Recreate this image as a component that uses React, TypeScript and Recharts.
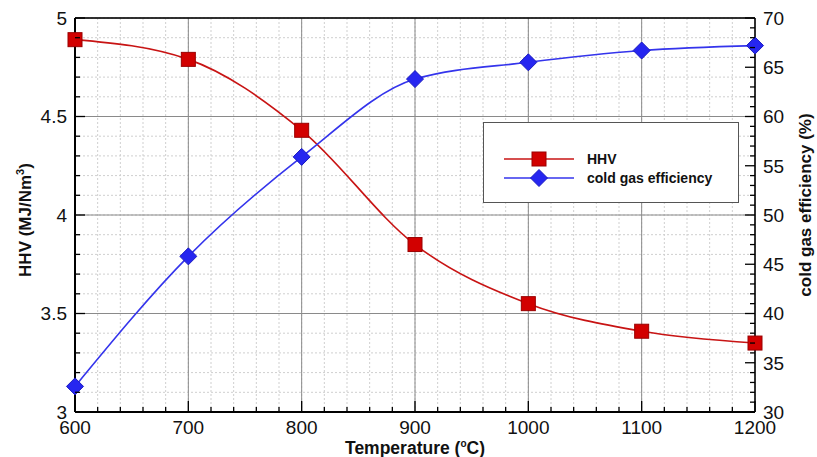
import * as React from 'react';
import {
  LineChart, Line, XAxis, YAxis, CartesianGrid, ReferenceLine, Legend, Label,
} from 'recharts';

// gasification temperature sweep
const TEMPERATURES = [600, 700, 800, 900, 1000, 1100, 1200];
const HHV_VALUES = [4.89, 4.79, 4.43, 3.85, 3.55, 3.41, 3.35];
const CGE_VALUES = [32.6, 45.8, 55.9, 63.8, 65.5, 66.7, 67.2];

const X_MAJOR = [600, 700, 800, 900, 1000, 1100, 1200];
const LEFT_MAJOR = [3, 3.5, 4, 4.5, 5];
const RIGHT_MAJOR = [30, 35, 40, 45, 50, 55, 60, 65, 70];

const HHV_COLOR = '#c81414';
const CGE_COLOR = '#3434ec';
const FONT = '"Liberation Sans", Arial, sans-serif';

const steps = (from: number, to: number, step: number) => {
  const out: number[] = [];
  for (let v = from; v <= to + step / 2; v += step) out.push(Math.round(v * 1000) / 1000);
  return out;
};

const X_MINOR = steps(600, 1200, 20);
const LEFT_MINOR = steps(3, 5, 0.1);
const RIGHT_MINOR = steps(30, 70, 1);

const data = TEMPERATURES.map((t, i) => ({ t, hhv: HHV_VALUES[i], cge: CGE_VALUES[i] }));

const isMajor = (v: number, majors: number[]) => majors.some((m) => Math.abs(m - v) < 1e-6);

const TICK_GAP = 8;

const BottomTick = (props: any) => {
  const { x, y, payload } = props;
  const major = isMajor(payload.value, X_MAJOR);
  const base = y - TICK_GAP;
  return (
    <g>
      <line x1={x} x2={x} y1={base} y2={base - (major ? 11 : 5)} stroke="#000" strokeWidth={1.3} />
      {major && (
        <text x={x} y={y} dy="0.72em" textAnchor="middle" fontSize={19} fontFamily={FONT} fill="#111">
          {payload.value}
        </text>
      )}
    </g>
  );
};

const LeftTick = (props: any) => {
  const { x, y, payload } = props;
  const major = isMajor(payload.value, LEFT_MAJOR);
  const base = x + TICK_GAP;
  return (
    <g>
      <line x1={base} x2={base + (major ? 10 : 5)} y1={y} y2={y} stroke="#000" strokeWidth={1.3} />
      {major && (
        <text x={x} y={y} dy="0.36em" textAnchor="end" fontSize={19} fontFamily={FONT} fill="#111">
          {payload.value}
        </text>
      )}
    </g>
  );
};

const RightTick = (props: any) => {
  const { x, y, payload } = props;
  const major = isMajor(payload.value, RIGHT_MAJOR);
  const base = x - TICK_GAP;
  return (
    <g>
      <line x1={base} x2={base - (major ? 10 : 5)} y1={y} y2={y} stroke="#000" strokeWidth={1.3} />
      {major && (
        <text x={x} y={y} dy="0.36em" textAnchor="start" fontSize={19} fontFamily={FONT} fill="#111">
          {payload.value}
        </text>
      )}
    </g>
  );
};

const SquareDot = (props: any) => {
  const { cx, cy, index } = props;
  return <rect key={'sq' + index} x={cx - 7} y={cy - 7} width={14} height={14} fill="#d20000" stroke="#9a0000" strokeWidth={1} />;
};

const DiamondDot = (props: any) => {
  const { cx, cy, index } = props;
  const r = 8.5;
  return (
    <path
      key={'dm' + index}
      d={`M${cx},${cy - r}L${cx + r},${cy}L${cx},${cy + r}L${cx - r},${cy}Z`}
      fill="#2626f0"
      stroke="#1a1ac0"
      strokeWidth={1}
    />
  );
};

const LegendBox = () => {
  const rows = [
    { name: 'HHV', color: HHV_COLOR, marker: 'square' },
    { name: 'cold gas efficiency', color: CGE_COLOR, marker: 'diamond' },
  ];
  return (
    <div style={{
      width: 256, height: 81, border: '1px solid #555', background: '#fff',
      boxSizing: 'border-box', paddingTop: 26, paddingLeft: 20,
    }}>
      {rows.map((r) => (
        <div key={r.name} style={{ display: 'flex', alignItems: 'center', height: 19 }}>
          <svg width={70} height={18} style={{ display: 'block' }}>
            <line x1={0} x2={70} y1={9} y2={9} stroke={r.color} strokeWidth={1.6} />
            {r.marker === 'square'
              ? <rect x={28} y={2} width={14} height={14} fill="#d20000" stroke="#9a0000" />
              : <path d="M35,0.5L43.5,9L35,17.5L26.5,9Z" fill="#2626f0" stroke="#1a1ac0" />}
          </svg>
          <span style={{
            marginLeft: 13, fontFamily: FONT, fontWeight: 'bold', fontSize: 14, color: '#111',
          }}>
            {r.name}
          </span>
        </div>
      ))}
    </div>
  );
};

export default function App() {
  return (
    <div style={{ position: 'absolute', left: 0, top: 0, width: 817, height: 457, background: '#fff' }}>
      <LineChart width={817} height={457} data={data} margin={{ top: 18, right: 7, bottom: 5, left: 15 }}>
        {/* minor grid */}
        <CartesianGrid
          yAxisId="left"
          verticalValues={X_MINOR}
          horizontalValues={LEFT_MINOR}
          stroke="#cfcfcf"
          strokeDasharray="2 2"
        />
        {/* major grid */}
        <CartesianGrid
          yAxisId="left"
          verticalValues={X_MAJOR}
          horizontalValues={LEFT_MAJOR}
          stroke="#8a8a8a"
          strokeWidth={1}
        />
        <XAxis
          dataKey="t"
          type="number"
          domain={[600, 1200]}
          ticks={X_MINOR}
          interval={0}
          height={40}
          tickSize={0}
          tickMargin={TICK_GAP}
          tick={<BottomTick />}
          axisLine={{ stroke: '#000', strokeWidth: 2 }}
        >
          <Label
            content={() => (
              <text x={415} y={454} textAnchor="middle" fontFamily={FONT} fontWeight="bold" fontSize={17.5} fill="#111">
                Temperature (<tspan dy={-7} fontSize={10}>o</tspan><tspan dy={7}>C)</tspan>
              </text>
            )}
          />
        </XAxis>
        <YAxis
          yAxisId="left"
          type="number"
          domain={[3, 5]}
          ticks={LEFT_MINOR}
          interval={0}
          width={60}
          tickSize={0}
          tickMargin={TICK_GAP}
          tick={<LeftTick />}
          axisLine={{ stroke: '#000', strokeWidth: 2 }}
        >
          <Label
            content={() => (
              <text
                transform="translate(31,220) rotate(-90)"
                textAnchor="middle"
                fontFamily={FONT}
                fontWeight="bold"
                fontSize={17}
                fill="#111"
              >
                HHV (MJ/Nm<tspan dy={-7} fontSize={11}>3</tspan><tspan dy={7}>)</tspan>
              </text>
            )}
          />
        </YAxis>
        <YAxis
          yAxisId="right"
          orientation="right"
          type="number"
          domain={[30, 70]}
          ticks={RIGHT_MINOR}
          interval={0}
          width={55}
          tickSize={0}
          tickMargin={TICK_GAP}
          tick={<RightTick />}
          axisLine={{ stroke: '#000', strokeWidth: 1.5 }}
        >
          <Label
            content={() => (
              <text
                transform="translate(811,205) rotate(-90)"
                textAnchor="middle"
                fontFamily={FONT}
                fontWeight="bold"
                fontSize={17}
                fill="#111"
              >
                cold gas efficiency (%)
              </text>
            )}
          />
        </YAxis>
        <ReferenceLine yAxisId="left" y={5} stroke="#000" strokeWidth={1.5} />
        <Legend
          verticalAlign="middle"
          align="center"
          layout="horizontal"
          content={<LegendBox />}
          wrapperStyle={{ left: 483, top: 122, width: 256, height: 81 }}
        />
        <Line
          yAxisId="left"
          type="monotone"
          dataKey="hhv"
          name="HHV"
          stroke={HHV_COLOR}
          strokeWidth={1.6}
          dot={<SquareDot />}
          activeDot={false}
          isAnimationActive={false}
        />
        <Line
          yAxisId="right"
          type="monotone"
          dataKey="cge"
          name="cold gas efficiency"
          stroke={CGE_COLOR}
          strokeWidth={1.6}
          dot={<DiamondDot />}
          activeDot={false}
          isAnimationActive={false}
        />
      </LineChart>
    </div>
  );
}
